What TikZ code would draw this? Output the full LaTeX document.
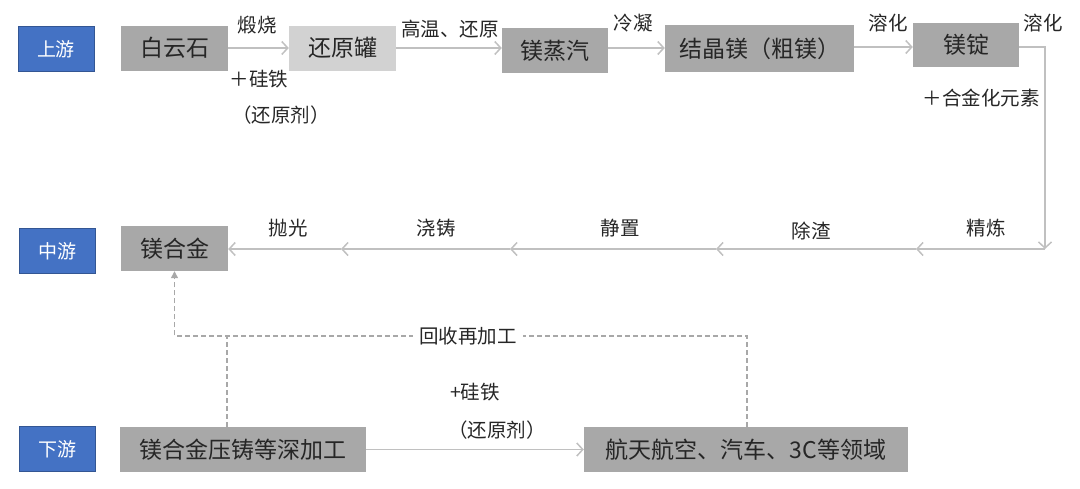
\documentclass[tikz,border=0pt]{standalone}
\usepackage{fontspec}
\setmainfont{Noto Sans CJK SC}
\usetikzlibrary{arrows.meta}
\definecolor{azul}{HTML}{4472C4}
\definecolor{grisCaja}{HTML}{A8A8A8}
\definecolor{grisClaro}{HTML}{D2D2D2}
\definecolor{grisLinea}{HTML}{C0C0C0}
\definecolor{grisPunto}{HTML}{A8A8A8}
\begin{document}
\begin{tikzpicture}[x=1pt, y=-1pt,
    etapa/.style={fill=#1, minimum height=45pt, inner sep=0pt, text=black!85,
      font=\fontsize{23}{23}\selectfont},
    etapa/.default=grisCaja,
    nivel/.style={fill=azul, draw=azul!75!black, line width=0.8pt, minimum width=76pt,
      minimum height=45pt, inner sep=0pt, text=white, font=\fontsize{19}{19}\selectfont},
    rotulo/.style={inner sep=1pt, text=black!85, font=\fontsize{19.5}{19.5}\selectfont},
    flecha/.style={draw=grisLinea, line width=1.5pt, -{Straight Barb[length=6pt,width=13pt]}},
    punteada/.style={draw=grisPunto, line width=1.2pt, dash pattern=on 5pt off 3pt}]
    \useasboundingbox (0,0) rectangle (1080,488);

    % Niveles de la cadena
    \node[nivel] (up) at (56,49) {上游};
    \node[nivel] (mid) at (57,251) {中游};
    \node[nivel] (down) at (57,449) {下游};

    % Etapas de arriba
    \node[etapa, minimum width=107pt] (bys) at (174.5,48) {白云石};
    \node[etapa=grisClaro, minimum width=107pt] (hyg) at (342.5,48) {还原罐};
    \node[etapa, minimum width=106pt] (mzq) at (555,50.5) {镁蒸汽};
    \node[etapa, minimum width=189pt, minimum height=47pt] (jjm) at (759.5,48.5) {结晶镁（粗镁）};
    \node[etapa, minimum width=106pt, minimum height=44pt] (md) at (966,45) {镁锭};

    % Etapas del medio y de abajo
    \node[etapa, minimum width=107pt] (mhj) at (174.5,248.5) {镁合金};
    \node[etapa, minimum width=246pt] (yz) at (243,449.5) {镁合金压铸等深加工};
    \node[etapa, minimum width=324pt] (ht) at (746,449.5) {航天航空、汽车、3C等领域};

    % Flechas de arriba
    \draw[flecha] (bys) -- (hyg);
    \draw[flecha] (hyg.east) -- (hyg.east -| mzq.west);
    \draw[flecha] (mzq.east |- 0,48) -- (jjm.west |- 0,48);
    \draw[flecha] (jjm.east |- 0,47) -- (md.west |- 0,47);

    % Linea de bajada y flechas del medio
    \coordinate (esq) at (1045,249);
    \coordinate (p1) at (916,249);
    \coordinate (p2) at (716,249);
    \coordinate (p3) at (510,249);
    \coordinate (p4) at (341,249);
    \draw[flecha] (md.east |- 0,47) -| (esq);
    \draw[flecha] (esq) -- (p1);
    \draw[flecha] (p1) -- (p2);
    \draw[flecha] (p2) -- (p3);
    \draw[flecha] (p3) -- (p4);
    \draw[flecha] (p4) -- (mhj.east |- p4);

    % Flecha de abajo
    \draw[flecha] (yz) -- (ht);

    % Reciclaje (punteada)
    \coordinate (r1) at (227,336);
    \coordinate (r2) at (747,336);
    \draw[punteada, -{Triangle[length=7pt,width=7pt]}] (ht.north -| r2) -- (r2) -- (mhj.south |- r2) -- (mhj.south);
    \draw[punteada] (yz.north -| r1) -- (r1);
    \node[rotulo, fill=white, inner xsep=6pt] (rec) at (468,336) {回收再加工};

    % Rotulos de arriba
    \node[rotulo] (l1) at (257,25) {煅烧};
    \node[rotulo] (l2) at (259,79) {＋硅铁};
    \node[rotulo] (l3) at (281,115) {（还原剂）};
    \node[rotulo] (l4) at (450,29) {高温、还原};
    \node[rotulo] (l5) at (633,23) {冷凝};
    \node[rotulo] (l6) at (888,23) {溶化};
    \node[rotulo] (l7) at (1043,23) {溶化};
    \node[rotulo] (l8) at (981,98) {＋合金化元素};

    % Rotulos del medio
    \node[rotulo] (m1) at (986,228) {精炼};
    \node[rotulo] (m2) at (811,231) {除渣};
    \node[rotulo] (m3) at (620,228) {静置};
    \node[rotulo] (m4) at (436,228) {浇铸};
    \node[rotulo] (m5) at (288,228) {抛光};

    % Rotulos de abajo
    \node[rotulo] (b1) at (475,392) {+硅铁};
    \node[rotulo] (b2) at (497,430) {（还原剂）};
\end{tikzpicture}
\end{document}
